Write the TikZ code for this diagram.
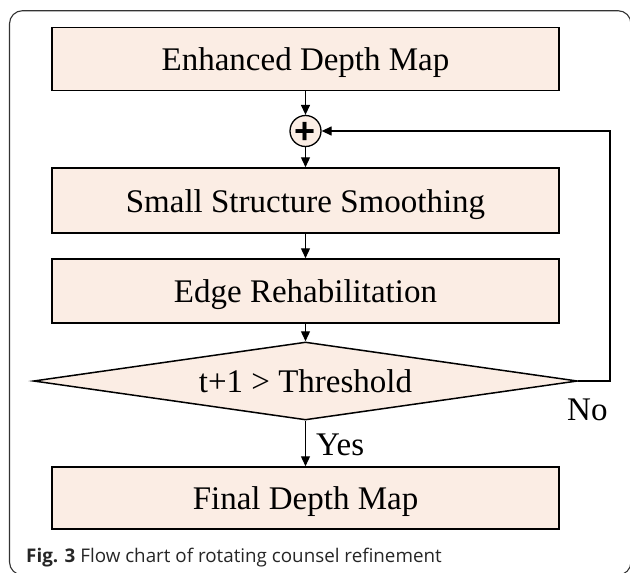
\documentclass[tikz,border=0pt]{standalone}
\usepackage{fontspec}
\setmainfont{Liberation Serif}
\newfontfamily\capfont{Open Sans}
\newfontfamily\plusfont{Liberation Sans}
\usetikzlibrary{shapes.geometric,arrows.meta}
\definecolor{peach}{RGB}{251,237,228}
\tikzset{
  procbox/.style={draw=black, line width=1.5pt, fill=peach, minimum width=507pt, inner sep=0pt,
    font=\fontsize{33}{36}\selectfont, text height=23pt, text depth=0pt},
  decbox/.style={draw=black, line width=1.5pt, fill=peach, diamond, aspect=7, inner sep=0pt,
    minimum width=544pt, minimum height=78pt,
    font=\fontsize{33}{36}\selectfont, text height=23pt, text depth=0pt},
  sumnode/.style={draw=black, line width=1.3pt, fill=peach, circle, minimum size=31pt, inner sep=0pt},
  lbl/.style={font=\fontsize{33}{36}\selectfont, inner sep=0pt, anchor=base west},
  arr/.style={line width=1.3pt, -{Triangle[length=10pt, width=9pt]}},
}
\begin{document}
\begin{tikzpicture}[x=1pt, y=-1pt]
\useasboundingbox (0,0) rectangle (630,573);
\draw[black!80, line width=1.1pt, rounded corners=13pt] (9.5,10.7) rectangle (631,575);
\node[procbox, minimum height=63pt] (top) at (305.5,59) {Enhanced Depth Map};
\node[sumnode] (plus) at (305.5,131) {};
\node[font=\plusfont\bfseries\fontsize{36}{36}\selectfont, inner sep=0pt] (plussign) at (305.5,132.5) {+};
\node[procbox, minimum height=65pt] (b2) at (305.5,200.5) {Small Structure Smoothing};
\node[procbox, minimum height=64pt] (b3) at (305.5,291) {Edge Rehabilitation};
\node[decbox] (dia) at (305.5,381) {t+1 > Threshold};
\node[procbox, minimum height=62pt] (fin) at (305.5,498) {Final Depth Map};
\node[lbl] (no) at (567,420) {No};
\node[lbl] (yes) at (316,455) {Yes};
\draw[arr] (top.south) -- (plus.north);
\draw[arr] (plus.south) -- (b2.north);
\draw[arr] (b2.south) -- (b3.north);
\draw[arr] (b3.south) -- (dia.north);
\draw[arr] (dia.south) -- (fin.north);
\coordinate (fb) at (610,381);
\draw[arr] (dia.east) -- (fb) |- (plus.east);
\node[anchor=base west, inner sep=0pt, text=black!85, font=\capfont\fontsize{18.8}{21}\selectfont] (cap) at (26,562)
  {\textbf{Fig. 3} Flow chart of rotating counsel refinement};
\end{tikzpicture}
\end{document}
